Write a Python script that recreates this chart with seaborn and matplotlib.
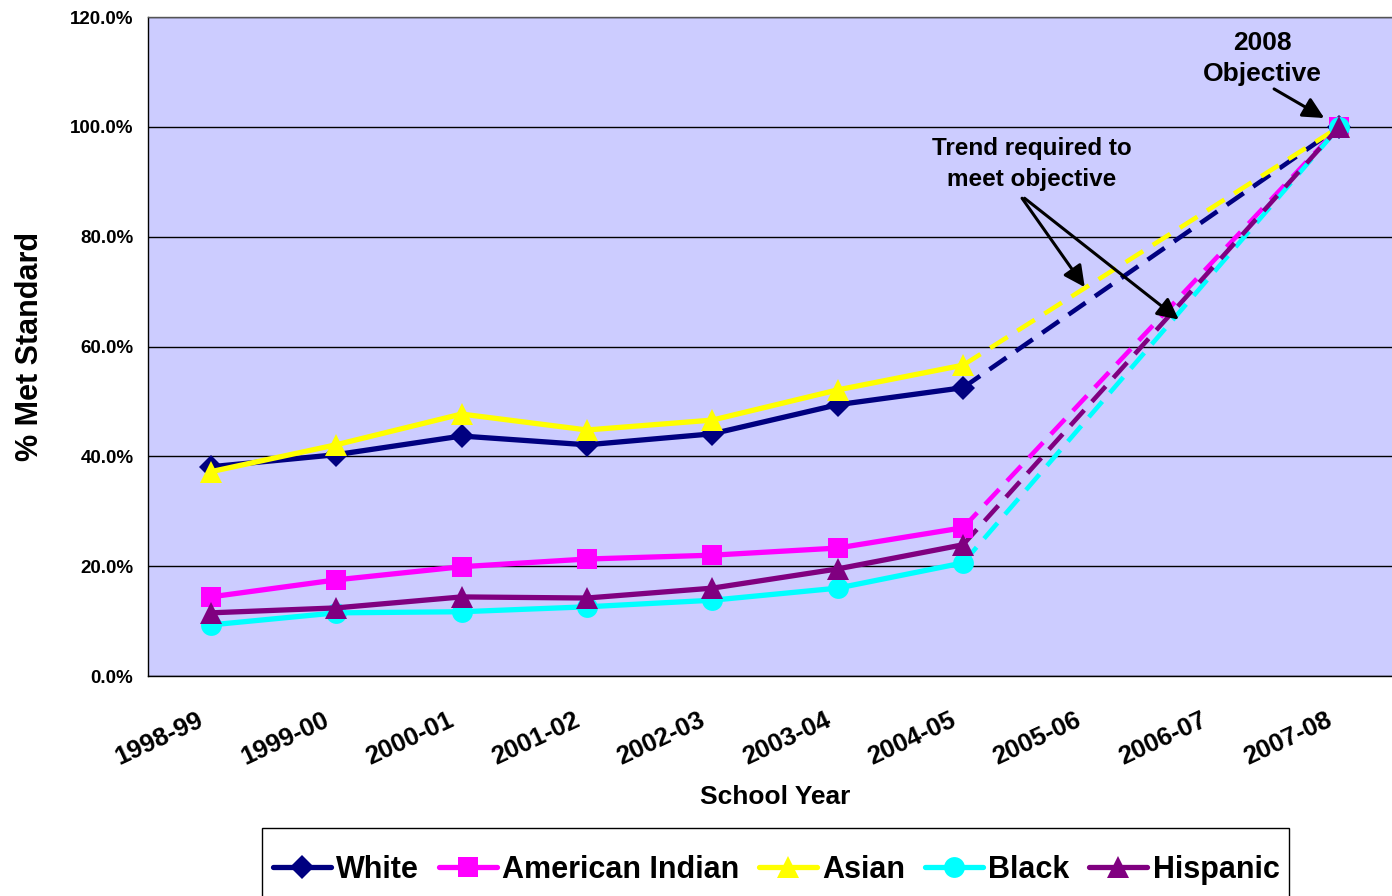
import numpy as np
import pandas as pd
import matplotlib
matplotlib.use("Agg")
import matplotlib.pyplot as plt
from matplotlib.patches import Rectangle
import seaborn as sns
from matplotlib.ticker import FuncFormatter, FixedLocator

# --- Data ---
years = ["1998-99", "1999-00", "2000-01", "2001-02", "2002-03", "2003-04",
         "2004-05", "2005-06", "2006-07", "2007-08"]
groups = ["White", "American Indian", "Asian", "Black", "Hispanic"]

white = [38.1, 40.3, 43.7, 42.1, 44.1, 49.4, 52.5]
american_indian = [14.4, 17.5, 19.9, 21.3, 22.0, 23.3, 27.0]
asian = [37.2, 42.1, 47.7, 44.8, 46.6, 52.1, 56.6]
black = [9.3, 11.5, 11.7, 12.6, 13.8, 16.0, 20.6]
hispanic = [11.5, 12.4, 14.4, 14.2, 16.0, 19.5, 23.9]
objective = 100.0

colors = {"White": "#000080", "American Indian": "#FF00FF", "Asian": "#FFFF00",
          "Black": "#00FFFF", "Hispanic": "#800080"}
markers = {"White": "D", "American Indian": "s", "Asian": "^", "Black": "o", "Hispanic": "^"}
msizes = {"White": 12, "American Indian": 15, "Asian": 16, "Black": 15, "Hispanic": 16}

# --- Build tidy frames ---
values = dict(zip(groups, [white, american_indian, asian, black, hispanic]))
actual = pd.concat([pd.DataFrame({"pos": np.arange(len(v)), "pct": v, "group": g})
                    for g, v in values.items()], ignore_index=True)
trend = pd.concat([pd.DataFrame({"pos": [len(v) - 1, len(years) - 1],
                                 "pct": [v[-1], objective], "group": g})
                   for g, v in values.items()], ignore_index=True)

# --- Plot ---
sns.set_style("white")
plt.rcParams["font.family"] = ["Liberation Sans", "DejaVu Sans"]
plt.rcParams["font.weight"] = "bold"
for k in ["text.color", "axes.labelcolor", "xtick.color", "ytick.color"]:
    plt.rcParams[k] = "black"

fig = plt.figure(figsize=(13.92, 8.96), dpi=100)
ax = fig.add_axes([148 / 1392, 1 - 676 / 896, 1254 / 1392, 659 / 896])
ax.set_facecolor("#CCCCFF")

for g in groups:
    d = trend[trend["group"] == g]
    sns.lineplot(data=d, x="pos", y="pct", ax=ax, color=colors[g], lw=3.3,
                 linestyle=(0, (4.5, 2.5)), marker=markers[g], markevery=[1],
                 markersize=msizes[g], markeredgewidth=0, legend=False, zorder=3)

handles = []
for g in groups:
    d = actual[actual["group"] == g]
    sns.lineplot(data=d, x="pos", y="pct", ax=ax, color=colors[g], lw=3.8,
                 marker=markers[g], markersize=msizes[g], markeredgewidth=0,
                 legend=False, zorder=4)
    handles.append(ax.lines[-1])

ax.set_xlim(-0.5, 9.5)
ax.set_ylim(0, 120)
ax.yaxis.set_major_locator(FixedLocator(np.arange(0, 121, 20)))
ax.yaxis.set_major_formatter(FuncFormatter(lambda v, p: f"{v:.1f}%"))
ax.grid(axis="y", color="black", lw=1)
ax.set_axisbelow(True)

# labels sit a little left of the category centre, as in the original
ax.set_xticks(np.arange(len(years)) - 0.11)
ax.set_xticklabels(years, rotation=25, ha="right", va="top", rotation_mode="anchor",
                   fontsize=18.5, fontweight="bold")
ax.set_xticks(np.arange(-0.5, 10, 1), minor=True)
ax.tick_params(axis="x", which="major", length=0, pad=23)
ax.tick_params(axis="x", which="minor", length=8, width=1, color="black", direction="out")
ax.tick_params(axis="y", length=7, width=1, color="black", direction="out", labelsize=13.5)
for lbl in ax.get_yticklabels():
    lbl.set_fontweight("bold")
for s in ax.spines.values():
    s.set_color("#555555")
    s.set_linewidth(1)
ax.spines["left"].set_color("black")
ax.spines["bottom"].set_color("black")

ax.set_xlabel("School Year", fontsize=19, fontweight="bold", labelpad=11)
ax.set_ylabel("% Met Standard", fontsize=22, fontweight="bold", labelpad=18)

# --- Annotations ---
arrow = dict(arrowstyle="-|>", color="black", lw=2.2, mutation_scale=32,
             shrinkA=0, shrinkB=0)
ax.text(8.39, 112.4, "2008\nObjective", ha="center", va="center",
        fontsize=19, fontweight="bold", linespacing=1.35)
ax.annotate("", xy=(8.88, 101.6), xytext=(8.48, 106.9), arrowprops=arrow)
ax.text(6.55, 93.3, "Trend required to\nmeet objective", ha="center", va="center",
        fontsize=17.5, fontweight="bold", linespacing=1.45)
ax.annotate("", xy=(6.97, 70.8), xytext=(6.47, 87.0), arrowprops=arrow)
ax.annotate("", xy=(7.72, 64.9), xytext=(6.49, 87.0), arrowprops=arrow)

# --- Legend (box drawn separately so it keeps the original's padding) ---
fig.patches.append(Rectangle((262 / 1392, -0.01), (1289 - 262) / 1392, 0.01 + 1 - 828 / 896,
                             transform=fig.transFigure, facecolor="white",
                             edgecolor="black", lw=1, zorder=0))
leg = fig.legend(handles, groups, loc="center", ncol=5,
                 bbox_to_anchor=(776 / 1392, 1 - 870 / 896), borderaxespad=0,
                 frameon=False, handlelength=1.9, handletextpad=0.17,
                 columnspacing=0.65, borderpad=0.2,
                 prop={"size": 22, "weight": "bold"})

fig.savefig("out.png", dpi=100)
